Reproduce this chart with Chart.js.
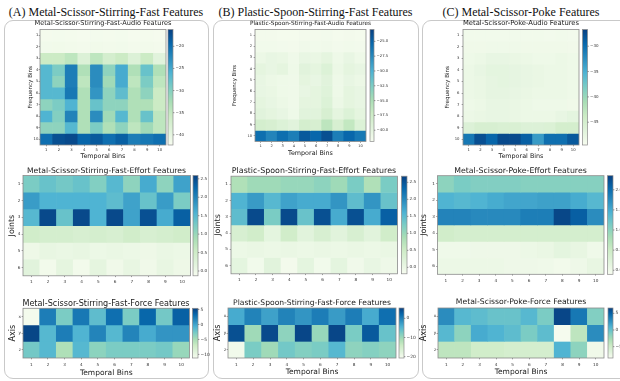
<!DOCTYPE html>
<html><head><meta charset="utf-8">
<script src="https://cdn.jsdelivr.net/npm/chart.js@4.4.0/dist/chart.umd.min.js"></script>
<style>
html,body{margin:0;padding:0;background:#fff;width:620px;height:381px;overflow:hidden;position:relative}
.box{position:absolute;border:1.3px solid #c9c9c9;border-radius:9px;box-sizing:border-box}
.main{position:absolute;font-family:'Liberation Serif','Times New Roman',serif;font-size:12px;color:#111;white-space:nowrap;transform:translate(-50%,-50%)}
canvas{position:absolute}
</style></head><body>
<div class="box" style="left:4px;top:20px;width:205px;height:359px"></div>
<div class="box" style="left:213px;top:20px;width:206px;height:359px"></div>
<div class="box" style="left:422px;top:20px;width:210px;height:359px"></div>
<div class="main" style="left:106px;top:12px">(A) Metal-Scissor-Stirring-Fast Features</div>
<div class="main" style="left:315.5px;top:12px">(B) Plastic-Spoon-Stirring-Fast Features</div>
<div class="main" style="left:521px;top:12px">(C) Metal-Scissor-Poke Features</div>
<script>
// ---------- DATA ----------
const temporalBins = ['1','2','3','4','5','6','7','8','9','10'];
const freqBins = ['1','2','3','4','5','6','7','8','9','10'];
const joints = ['1','2','3','4','5','6'];
const forceAxes = ['x','y','z'];

const aAudio = [
  [-41.9,-41.8,-41.9,-42.0,-41.8,-41.9,-41.8,-42.0,-41.9,-42.0],
  [-41.5,-41.4,-41.6,-41.7,-41.4,-41.6,-41.5,-41.7,-41.6,-41.7],
  [-35.8,-35.8,-34.5,-38.4,-34.5,-37.1,-35.8,-38.4,-35.8,-39.2],
  [-26.6,-29.3,-21.4,-33.2,-22.7,-30.6,-25.3,-33.2,-27.9,-33.2],
  [-26.6,-30.6,-21.4,-34.5,-22.7,-31.9,-25.3,-34.5,-29.3,-34.5],
  [-26.6,-26.6,-20.9,-33.2,-23.5,-30.6,-27.2,-33.2,-30.6,-35.8],
  [-30.6,-29.3,-26.1,-33.2,-27.9,-30.6,-30.6,-33.2,-33.2,-35.8],
  [-26.1,-29.8,-21.9,-33.2,-22.7,-31.9,-26.6,-33.2,-27.9,-34.5],
  [-30.6,-30.6,-26.6,-33.2,-29.3,-33.2,-30.6,-34.5,-31.9,-34.5],
  [-20.1,-17.5,-17.0,-19.3,-18.3,-20.1,-18.8,-21.4,-20.9,-20.1]
];
const bAudio = [
  [-41.5,-41.5,-41.6,-41.6,-41.5,-41.5,-41.4,-41.6,-41.5,-41.6],
  [-41.3,-41.3,-41.4,-41.5,-41.2,-41.3,-41.2,-41.4,-41.3,-41.4],
  [-40.8,-40.4,-40.6,-41.1,-40.4,-40.6,-40.0,-41.0,-40.4,-41.0],
  [-40.0,-40.4,-40.0,-41.0,-39.6,-40.0,-39.1,-40.8,-40.0,-40.4],
  [-40.4,-40.8,-41.0,-41.1,-40.0,-40.4,-39.6,-41.0,-40.4,-40.8],
  [-40.4,-40.6,-41.0,-41.1,-40.4,-40.0,-39.4,-41.0,-40.0,-40.4],
  [-40.0,-40.4,-40.8,-41.1,-40.0,-40.0,-39.1,-40.8,-40.0,-40.4],
  [-39.6,-40.0,-40.4,-41.0,-39.6,-39.6,-38.5,-40.0,-39.1,-40.0],
  [-38.1,-38.5,-39.1,-39.6,-38.1,-38.5,-36.2,-38.5,-36.6,-39.1],
  [-25.8,-27.2,-25.8,-26.8,-24.5,-25.3,-23.9,-26.8,-25.3,-26.4]
];
const cAudio = [
  [-48.8,-48.8,-48.8,-48.8,-48.8,-48.8,-48.8,-48.9,-48.8,-48.9],
  [-48.6,-48.6,-48.5,-48.5,-48.5,-48.6,-48.6,-48.6,-48.6,-48.7],
  [-48.4,-48.1,-47.7,-47.7,-47.9,-48.1,-48.4,-48.4,-48.1,-48.4],
  [-48.1,-47.7,-47.2,-47.2,-47.4,-47.7,-47.9,-48.1,-48.1,-48.4],
  [-48.1,-47.9,-47.4,-47.2,-47.4,-47.7,-47.9,-48.1,-48.1,-48.4],
  [-48.1,-47.9,-47.4,-47.4,-47.7,-47.9,-48.1,-48.1,-48.1,-48.4],
  [-48.4,-48.1,-47.7,-47.7,-47.9,-48.1,-48.4,-48.4,-48.4,-48.6],
  [-48.1,-47.9,-47.7,-47.7,-47.9,-48.1,-48.1,-48.1,-47.7,-47.2],
  [-46.1,-45.4,-45.4,-45.6,-45.6,-46.1,-46.1,-45.9,-44.9,-44.9],
  [-30.8,-27.8,-29.4,-27.4,-27.4,-29.0,-33.5,-30.1,-30.1,-28.5]
];
const aEffort = [
  [1.23,1.37,1.28,1.37,1.18,1.50,1.09,1.64,1.09,1.72],
  [1.77,1.56,1.56,1.56,1.56,1.45,1.72,1.37,1.77,1.23],
  [1.50,2.51,1.37,2.51,1.56,2.51,1.72,2.45,1.64,2.32],
  [0.47,0.41,0.41,0.36,0.41,0.36,0.47,0.36,0.41,0.47],
  [0.01,0.09,0.06,0.09,0.03,0.06,0.03,0.01,0.06,0.03],
  [0.20,-0.05,0.14,-0.05,0.14,-0.02,0.09,-0.02,0.09,0.01]
];
const bEffort = [
  [0.81,0.96,0.96,1.02,1.02,1.10,0.96,1.25,0.81,1.25],
  [1.59,1.82,1.53,1.76,1.68,1.68,1.88,1.47,1.88,1.39],
  [1.47,2.59,1.25,2.59,1.39,2.54,1.68,2.54,1.68,2.39],
  [0.33,0.44,0.10,0.44,0.15,0.33,0.15,0.33,0.15,0.44],
  [-0.02,0.01,-0.02,0.01,-0.02,0.01,-0.02,0.01,-0.02,0.01],
  [0.10,-0.10,0.15,-0.13,0.10,-0.10,0.10,-0.08,0.04,-0.05]
];
const cEffort = [
  [1.00,1.13,1.08,1.08,1.08,1.05,1.05,1.05,1.05,1.05],
  [1.42,1.37,1.42,1.49,1.54,1.54,1.57,1.57,1.49,1.37],
  [1.81,1.81,1.76,1.76,1.76,1.86,1.86,2.30,2.11,1.74],
  [0.44,0.39,0.39,0.39,0.39,0.39,0.39,0.39,0.39,0.39],
  [0.00,0.00,0.02,0.02,0.02,0.05,0.07,0.15,0.10,0.00],
  [0.05,0.05,0.05,0.05,0.02,0.02,0.00,-0.03,0.02,0.10]
];
const aForce = [
  [-10.9,2.1,-2.9,2.4,-1.6,2.9,-2.9,3.4,-2.6,3.7],
  [5.1,-1.2,2.1,-0.9,1.7,-1.2,1.7,-0.4,0.8,0.8],
  [-2.6,-1.2,-5.4,-1.2,-3.7,-2.9,-2.9,-2.9,-2.6,-4.2]
];
const bForce = [
  [-3.7,-0.3,-2.9,-0.3,-1.9,0.2,-2.4,0.2,-3.7,1.5],
  [4.1,-10.3,4.6,-9.0,4.9,-9.7,4.9,-7.6,3.3,-6.3],
  [-19.9,-7.6,-10.3,-7.1,-8.2,-7.6,-5.0,-9.0,-8.4,-9.0]
];
const cForce = [
  [2.85,0.6,0.3,-0.15,-0.15,0.6,-0.9,6.3,3.9,-1.2],
  [0.6,-1.65,1.35,0.9,0.3,-0.9,0.3,-8.25,-3.9,2.85],
  [-3.9,-3.9,-5.1,-5.1,-5.4,-5.4,-5.4,0.9,-1.65,-7.8]
];

// colour-bar limits and tick values
const aAudioRange = [-42.3, -16.2];  const aAudioTicks = [-40,-35,-30,-25,-20];
const bAudioRange = [-41.9, -23.0];  const bAudioTicks = [-40,-37.5,-35,-32.5,-30,-27.5,-25];
const cAudioRange = [-49.5, -26.7];  const cAudioTicks = [-45,-40,-35,-30];
const aEffortRange = [-0.13, 2.59];  const aEffortTicks = [0,0.5,1,1.5,2,2.5];
const bEffortRange = [-0.19, 2.68];  const bEffortTicks = [0,0.5,1,1.5,2,2.5];
const cEffortRange = [-0.10, 2.35];  const cEffortTicks = [0,0.5,1,1.5,2];
const aForceRange = [-11.2, 5.4];    const aForceTicks = [-10,-5,0,5];
const bForceRange = [-20.7, 5.4];    const bForceTicks = [-20,-10,0];
const cForceRange = [-8.4, 6.6];     const cForceTicks = [-5,0,5];

// ---------- COLOUR MAP (GnBu) ----------
const GNBU = ['#f7fcf0','#e0f3db','#ccebc5','#a8ddb5','#7bccc4','#4eb3d3','#2b8cbe','#0868ac','#084081'];
const GNBU_RGB = GNBU.map(h => [1,3,5].map(i => parseInt(h.slice(i,i+2),16)));
function cmap(t){
  t = Math.max(0, Math.min(1, t));
  const s = t*8, i = Math.min(7, Math.floor(s)), f = s - i;
  const a = GNBU_RGB[i], b = GNBU_RGB[i+1];
  return 'rgb(' + [0,1,2].map(k => Math.round(a[k] + (b[k]-a[k])*f)).join(',') + ')';
}
const minus = s => String(s).replace('-', '\u2212');

const FONT = 'DejaVu Sans';
const FRAME = '#8a8a8a';

// ---------- LAYOUT SPECS ----------
const specs = [
 {title:'Metal-Scissor-Stirring-Fast-Audio Features', values:aAudio, rows:freqBins, yTitle:'Frequency Bins', range:aAudioRange, cbTicks:aAudioTicks, dec:0,
  L:40,R:166,T:29.5,B:145, cbGap:2,cbW:5, titleY:23.5,titleSize:6.6, yTitleX:31,yTitleSize:5.6, xTitle:'Temporal Bins',xTitleY:156,xTitleSize:6.4, tickSize:3.8,tickY:150,yTickRight:38.3, cbTickSize:4},
 {title:'Plastic-Spoon-Stirring-Fast-Audio Features', values:bAudio, rows:freqBins, yTitle:'Frequency Bins', range:bAudioRange, cbTicks:bAudioTicks, dec:1,
  L:255,R:366,T:29.3,B:141.5, cbGap:4,cbW:4, titleY:23.5,titleSize:5.8, yTitleX:235,yTitleSize:5.4, xTitle:'Temporal Bins',xTitleY:153,xTitleSize:6.4, tickSize:3.6,tickY:146,yTickRight:252, cbTickSize:3.8},
 {title:'Metal-Scissor-Poke-Audio Features', values:cAudio, rows:freqBins, yTitle:'Frequency Bins', range:cAudioRange, cbTicks:cAudioTicks, dec:0,
  L:463,R:579,T:29.5,B:145, cbGap:3.5,cbW:5, titleY:23.5,titleSize:6.8, yTitleX:448,yTitleSize:5.6, xTitle:'Temporal Bins',xTitleY:156,xTitleSize:6.4, tickSize:3.8,tickY:150,yTickRight:459.5, cbTickSize:4},
 {title:'Metal-Scissor-Stirring-Fast-Effort Features', values:aEffort, rows:joints, yTitle:'Joints', range:aEffortRange, cbTicks:aEffortTicks, dec:1,
  L:23,R:190.5,T:175.5,B:276, cbGap:2.5,cbW:5, titleY:171.5,titleSize:7.7, yTitleX:12,yTitleSize:7.9, xTitle:null, tickSize:4.2,tickY:282,yTickRight:20.5, cbTickSize:4.2},
 {title:'Plastic-Spoon-Stirring-Fast-Effort Features', values:bEffort, rows:joints, yTitle:'Joints', range:bEffortRange, cbTicks:bEffortTicks, dec:1,
  L:231,R:397.5,T:175.5,B:276, cbGap:4,cbW:5.5, titleY:170.5,titleSize:7.9, yTitleX:218,yTitleSize:7.9, xTitle:null, tickSize:4.2,tickY:282,yTickRight:228, cbTickSize:4.2},
 {title:'Metal-Scissor-Poke-Effort Features', values:cEffort, rows:joints, yTitle:'Joints', range:cEffortRange, cbTicks:cEffortTicks, dec:1,
  L:437.5,R:604,T:175.5,B:275.5, cbGap:3.5,cbW:5.5, titleY:170.5,titleSize:7.8, yTitleX:424,yTitleSize:7.9, xTitle:null, tickSize:4.2,tickY:282,yTickRight:435, cbTickSize:4.2},
 {title:'Metal-Scissor-Stirring-Fast-Force Features', values:aForce, rows:forceAxes, yTitle:'Axis', range:aForceRange, cbTicks:aForceTicks, dec:0,
  L:23,R:189.5,T:308,B:358, cbGap:3,cbW:5.5, titleY:304,titleSize:8.1, yTitleX:12.5,yTitleSize:8, xTitle:'Temporal Bins',xTitleY:373,xTitleSize:7.5, tickSize:4.2,tickY:365,yTickRight:21, cbTickSize:4.4},
 {title:'Plastic-Spoon-Stirring-Fast-Force Features', values:bForce, rows:forceAxes, yTitle:'Axis', range:bForceRange, cbTicks:bForceTicks, dec:0,
  L:228,R:396,T:308,B:358, cbGap:3,cbW:5, titleY:303.5,titleSize:7.6, yTitleX:218,yTitleSize:8, xTitle:'Temporal Bins',xTitleY:372,xTitleSize:7.5, tickSize:4.2,tickY:365,yTickRight:226.3, cbTickSize:4.4},
 {title:'Metal-Scissor-Poke-Force Features', values:cForce, rows:forceAxes, yTitle:'Axis', range:cForceRange, cbTicks:cForceTicks, dec:0,
  L:438,R:604,T:308,B:358, cbGap:4,cbW:5, titleY:302.5,titleSize:7.7, yTitleX:424,yTitleSize:8, xTitle:'Temporal Bins',xTitleY:372.5,xTitleSize:7.5, tickSize:4.2,tickY:365,yTickRight:436.3, cbTickSize:4.4}
];

function makeHeatmap(sp){
  const extL = sp.L - (sp.yTitleX - sp.yTitleSize);
  const extR = sp.cbGap + sp.cbW + 20;
  const ext = Math.max(extL, extR);
  const left = Math.floor(sp.L - ext), right = Math.ceil(sp.R + ext);
  const top = Math.floor(sp.titleY - sp.titleSize);
  const bottom = sp.xTitle ? Math.ceil(sp.xTitleY + sp.xTitleSize) : Math.ceil(sp.tickY + sp.tickSize + 1);
  const cv = document.createElement('canvas');
  cv.width = right - left; cv.height = bottom - top;
  cv.style.left = left + 'px'; cv.style.top = top + 'px';
  document.body.appendChild(cv);

  const [vmin, vmax] = sp.range;
  const datasets = sp.rows.map((r, i) => ({
    label: r,
    data: temporalBins.map(() => [i + 0.5, i + 1.5]),
    backgroundColor: sp.values[i].map(v => cmap((v - vmin) / (vmax - vmin))),
    borderWidth: 0, borderSkipped: false, barPercentage: 1, categoryPercentage: 1, grouped: false
  }));
  const tl = 1.3;
  const padTop = (sp.titleY - top) - sp.titleSize / 2;
  const padBottom = (sp.T - top) - sp.titleSize - padTop;
  const tickFont = s => ({family: FONT, size: s, lineHeight: 1});

  const deco = {
    id: 'deco',
    afterDraw(chart){
      const {ctx, chartArea: a} = chart;
      const cb = chart.scales.cb;
      const y0 = cb.getPixelForValue(vmax), y1 = cb.getPixelForValue(vmin);
      const x0 = a.right + sp.cbGap;
      ctx.save();
      const g = ctx.createLinearGradient(0, y1, 0, y0);
      GNBU.forEach((c, i) => g.addColorStop(i / 8, c));
      ctx.fillStyle = g;
      ctx.fillRect(x0, y0, sp.cbW, y1 - y0);
      ctx.strokeStyle = FRAME; ctx.lineWidth = 0.7;
      ctx.strokeRect(x0, y0, sp.cbW, y1 - y0);
      ctx.strokeStyle = '#555'; ctx.lineWidth = 0.6;
      cb.ticks.forEach(t => {
        const y = cb.getPixelForValue(t.value);
        ctx.beginPath(); ctx.moveTo(x0 + sp.cbW, y); ctx.lineTo(x0 + sp.cbW + 1.4, y); ctx.stroke();
      });
      ctx.strokeStyle = FRAME; ctx.lineWidth = 0.8;
      ctx.strokeRect(a.left, a.top, a.right - a.left, a.bottom - a.top);
      ctx.restore();
    }
  };

  new Chart(cv, {
    type: 'bar',
    data: {labels: temporalBins, datasets},
    options: {
      responsive: false, animation: false, events: [],
      layout: {padding: 0},
      plugins: {
        legend: {display: false}, tooltip: {enabled: false},
        title: {display: true, text: sp.title, fullSize: true, color: '#1a1a1a',
          font: {family: FONT, size: sp.titleSize, lineHeight: 1, weight: 'normal'},
          padding: {top: padTop, bottom: padBottom}}
      },
      scales: {
        x: {
          type: 'category', offset: true,
          grid: {display: true, drawOnChartArea: false, offset: false, tickLength: tl, color: '#555', lineWidth: 0.6},
          border: {display: false},
          ticks: {font: tickFont(sp.tickSize), color: '#333', padding: sp.tickY - sp.B - tl - sp.tickSize / 2, autoSkip: false, maxRotation: 0},
          title: sp.xTitle ? {display: true, text: sp.xTitle, color: '#1a1a1a', font: {family: FONT, size: sp.xTitleSize, lineHeight: 1},
            padding: {top: 0, bottom: (bottom - sp.xTitleY) - sp.xTitleSize / 2}} : {display: false},
          afterFit: s => { s.height = bottom - sp.B; }
        },
        y: {
          type: 'linear', position: 'left', min: 0.5, max: sp.rows.length + 0.5, reverse: true,
          grid: {display: true, drawOnChartArea: false, tickLength: tl, color: '#555', lineWidth: 0.6},
          border: {display: false},
          afterBuildTicks: s => { s.ticks = sp.rows.map((_, i) => ({value: i + 1})); },
          ticks: {font: tickFont(sp.tickSize), color: '#333', padding: sp.L - tl - sp.yTickRight, autoSkip: false,
            callback: v => sp.rows[Math.round(v) - 1]},
          title: {display: true, text: sp.yTitle, color: '#1a1a1a', font: {family: FONT, size: sp.yTitleSize, lineHeight: 1},
            padding: {top: (sp.yTitleX - left) - sp.yTitleSize / 2, bottom: 0}},
          afterFit: s => { s.width = sp.L - left; }
        },
        cb: {
          type: 'linear', position: 'right', min: vmin, max: vmax,
          grid: {display: false, drawTicks: false}, border: {display: false},
          afterBuildTicks: s => { s.ticks = sp.cbTicks.map(v => ({value: v})); },
          ticks: {font: tickFont(sp.cbTickSize), color: '#333', padding: sp.cbGap + sp.cbW + 2.6, autoSkip: false,
            callback: v => minus(Number(v).toFixed(sp.dec))},
          afterFit: s => { s.width = right - sp.R; }
        }
      }
    },
    plugins: [deco]
  });
}
specs.forEach(makeHeatmap);
</script>
</body></html>
